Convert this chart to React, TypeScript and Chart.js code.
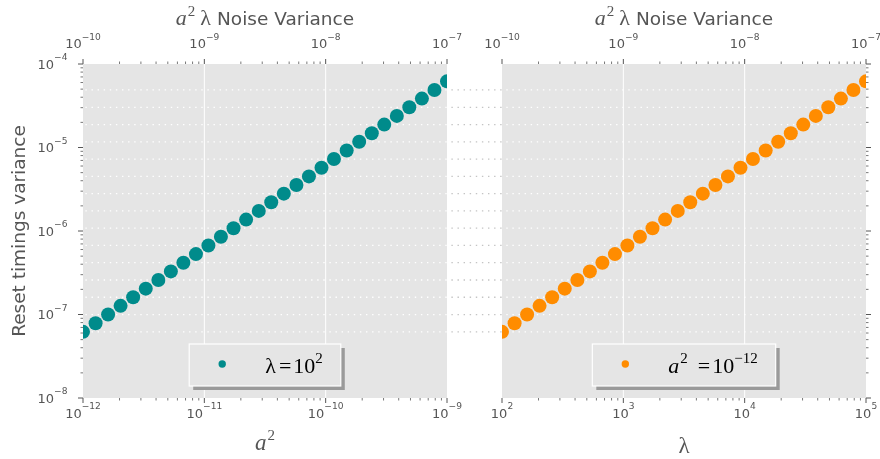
import React, { useEffect, useRef } from 'react';
import { Chart, registerables } from 'chart.js';

Chart.register(...registerables);

// ---- data ----
const aSquared = [
  1.0e-12, 1.27e-12, 1.61e-12, 2.04e-12, 2.59e-12, 3.29e-12, 4.18e-12, 5.3e-12, 6.72e-12, 8.53e-12,
  1.08e-11, 1.37e-11, 1.74e-11, 2.21e-11, 2.81e-11, 3.56e-11, 4.52e-11, 5.74e-11, 7.28e-11, 9.24e-11,
  1.17e-10, 1.49e-10, 1.89e-10, 2.4e-10, 3.04e-10, 3.86e-10, 4.89e-10, 6.21e-10, 7.88e-10, 1.0e-9,
];
const lambdaValues = [
  100, 127, 161, 204, 259, 329, 418, 530, 672, 853,
  1080, 1370, 1740, 2210, 2810, 3560, 4520, 5740, 7280, 9240,
  11700, 14900, 18900, 24000, 30400, 38600, 48900, 62100, 78800, 100000,
];
const resetVariance = [
  6.2e-8, 7.87e-8, 9.98e-8, 1.27e-7, 1.61e-7, 2.04e-7, 2.59e-7, 3.28e-7, 4.17e-7, 5.29e-7,
  6.71e-7, 8.52e-7, 1.08e-6, 1.37e-6, 1.74e-6, 2.21e-6, 2.8e-6, 3.56e-6, 4.51e-6, 5.73e-6,
  7.27e-6, 9.22e-6, 1.17e-5, 1.48e-5, 1.88e-5, 2.39e-5, 3.03e-5, 3.85e-5, 4.89e-5, 6.2e-5,
];

const leftBottomTicks = [1e-12, 1e-11, 1e-10, 1e-9];
const rightBottomTicks = [1e2, 1e3, 1e4, 1e5];
const topTicks = [1e-10, 1e-9, 1e-8, 1e-7];
const yTicks = [1e-8, 1e-7, 1e-6, 1e-5, 1e-4];

const TEAL = '#008b8b';
const ORANGE = '#ff8c00';
const LABEL = '#555555';
const SANS = '"DejaVu Sans", sans-serif';
const SERIF = '"Liberation Serif", "DejaVu Serif", serif';
const DASH = [1.4, 4.7];
const TICK_FONT = `13px ${SANS}`;
const EXP_FONT = `9.1px ${SANS}`;

type Part = { t: string; f: string; dy?: number; gap?: number };

const F_MATH = `22px ${SERIF}`;
const F_MATH_I = `italic 22px ${SERIF}`;
const F_SUP = `15px ${SERIF}`;

const leftLegendParts: Part[] = [
  { t: 'λ', f: F_MATH },
  { t: '=', f: F_MATH, gap: 3 },
  { t: '10', f: F_MATH, gap: 2 },
  { t: '2', f: F_SUP, dy: -10 },
];
const rightLegendParts: Part[] = [
  { t: 'a', f: F_MATH_I },
  { t: '2', f: F_SUP, dy: -10, gap: 1 },
  { t: '=', f: F_MATH, gap: 10 },
  { t: '10', f: F_MATH, gap: 2 },
  { t: '−12', f: F_SUP, dy: -10 },
];
const titleParts: Part[] = [
  { t: 'a', f: F_MATH_I },
  { t: '2', f: F_SUP, dy: -9, gap: 1 },
  { t: 'λ', f: F_MATH, gap: 5 },
  { t: 'Noise Variance', f: `18.5px ${SANS}`, gap: 6 },
];
const aLabelParts: Part[] = [
  { t: 'a', f: `italic 23px ${SERIF}` },
  { t: '2', f: F_SUP, dy: -10, gap: 1 },
];
const lambdaLabelParts: Part[] = [{ t: 'λ', f: `23px ${SERIF}` }];

function partsWidth(ctx: CanvasRenderingContext2D, parts: Part[]) {
  let w = 0;
  for (const p of parts) {
    ctx.font = p.f;
    w += (p.gap || 0) + ctx.measureText(p.t).width;
  }
  return w;
}

function drawParts(ctx: CanvasRenderingContext2D, parts: Part[], x0: number, baseline: number, color: string) {
  ctx.fillStyle = color;
  ctx.textAlign = 'left';
  ctx.textBaseline = 'alphabetic';
  let x = x0;
  for (const p of parts) {
    x += p.gap || 0;
    ctx.font = p.f;
    ctx.fillText(p.t, x, baseline + (p.dy || 0));
    x += ctx.measureText(p.t).width;
  }
}

function drawPow(ctx: CanvasRenderingContext2D, v: number, x: number, baseline: number, align: 'center' | 'right') {
  const e = Math.round(Math.log10(v));
  const exp = (e < 0 ? '−' : '') + String(Math.abs(e));
  ctx.font = TICK_FONT;
  const w1 = ctx.measureText('10').width;
  ctx.font = EXP_FONT;
  const w2 = ctx.measureText(exp).width;
  const total = w1 + w2;
  const x0 = align === 'center' ? x - total / 2 : x - total;
  ctx.fillStyle = LABEL;
  ctx.textAlign = 'left';
  ctx.textBaseline = 'alphabetic';
  ctx.font = TICK_FONT;
  ctx.fillText('10', x0, baseline);
  ctx.font = EXP_FONT;
  ctx.fillText(exp, x0 + w1, baseline - 8.5);
}

function minorsOf(majors: number[]) {
  const out: number[] = [];
  for (let i = 0; i < majors.length - 1; i++) {
    for (let m = 2; m <= 9; m++) out.push(m * majors[i]);
  }
  return out;
}

type PanelCfg = {
  side: 'left' | 'right';
  xs: number[];
  ys: number[];
  color: string;
  bottomTicks: number[];
  legendParts: Part[];
  xLabelParts: Part[];
  xLabelBaseline: number;
  canvasLeft: number;
  width: number;
  padding: { left: number; right: number; top: number; bottom: number };
};

function makeDecor(cfg: PanelCfg) {
  return {
    id: 'panelDecor',
    beforeDatasetsDraw(chart: any) {
      const { ctx, chartArea: a, scales } = chart;
      const x = scales.x;
      const y = scales.y;
      ctx.save();
      ctx.fillStyle = '#e5e5e5';
      ctx.fillRect(a.left, a.top, a.right - a.left, a.bottom - a.top);
      // vertical major grid lines
      ctx.strokeStyle = '#ffffff';
      ctx.lineWidth = 1;
      for (const t of cfg.bottomTicks) {
        const px = x.getPixelForValue(t);
        if (px <= a.left + 1 || px >= a.right - 1) continue;
        ctx.beginPath();
        ctx.moveTo(px, a.top);
        ctx.lineTo(px, a.bottom);
        ctx.stroke();
      }
      // dotted guide lines at every second point level
      ctx.lineWidth = 1.3;
      ctx.setLineDash(DASH);
      const period = DASH[0] + DASH[1];
      const seg = (x0: number, x1: number, py: number, color: string) => {
        ctx.strokeStyle = color;
        ctx.lineDashOffset = (x0 + cfg.canvasLeft) % period;
        ctx.beginPath();
        ctx.moveTo(x0, py);
        ctx.lineTo(x1, py);
        ctx.stroke();
      };
      cfg.ys.forEach((v, i) => {
        if (i % 2 !== 0) return;
        const py = y.getPixelForValue(v);
        seg(a.left, a.right, py, '#ffffff');
        if (cfg.side === 'left') seg(a.right, chart.width, py, '#c4c4c4');
        else seg(0, a.left, py, '#c4c4c4');
      });
      ctx.restore();
    },
    afterDatasetsDraw(chart: any) {
      const { ctx, chartArea: a, scales } = chart;
      const x = scales.x;
      const xTop = scales.xTop;
      const y = scales.y;
      const cx = (a.left + a.right) / 2;
      ctx.save();

      // legend (lower center, with shadow)
      const tw = partsWidth(ctx, cfg.legendParts);
      const bw = 76 + tw + 18;
      const bh = 42;
      const bx = cx - bw / 2;
      const by = a.bottom - 54;
      ctx.fillStyle = '#9a9a9a';
      ctx.fillRect(bx + 4, by + 4, bw, bh);
      ctx.fillStyle = '#e5e5e5';
      ctx.fillRect(bx, by, bw, bh);
      ctx.strokeStyle = '#ffffff';
      ctx.lineWidth = 1.2;
      ctx.strokeRect(bx, by, bw, bh);
      ctx.fillStyle = cfg.color;
      ctx.beginPath();
      ctx.arc(bx + 33, by + 20, 3.7, 0, Math.PI * 2);
      ctx.fill();
      drawParts(ctx, cfg.legendParts, bx + 76, by + 28.5, '#000000');

      // tick marks
      ctx.strokeStyle = LABEL;
      const tick = (x0: number, y0: number, x1: number, y1: number, w: number) => {
        ctx.lineWidth = w;
        ctx.beginPath();
        ctx.moveTo(x0, y0);
        ctx.lineTo(x1, y1);
        ctx.stroke();
      };
      const MJ = 5;
      const MN = 2.5;
      for (const t of cfg.bottomTicks) {
        const px = x.getPixelForValue(t);
        tick(px, a.bottom, px, a.bottom + MJ, 1);
      }
      for (const t of minorsOf(cfg.bottomTicks)) {
        const px = x.getPixelForValue(t);
        tick(px, a.bottom, px, a.bottom + MN, 0.8);
      }
      for (const t of topTicks) {
        const px = xTop.getPixelForValue(t);
        tick(px, a.top, px, a.top - MJ, 1);
      }
      for (const t of minorsOf(topTicks)) {
        const px = xTop.getPixelForValue(t);
        tick(px, a.top, px, a.top - MN, 0.8);
      }
      const edge = cfg.side === 'left' ? a.left : a.right;
      const dir = cfg.side === 'left' ? -1 : 1;
      for (const t of yTicks) {
        const py = y.getPixelForValue(t);
        tick(edge, py, edge + dir * MJ, py, 1);
      }
      for (const t of minorsOf(yTicks)) {
        const py = y.getPixelForValue(t);
        tick(edge, py, edge + dir * MN, py, 0.8);
      }

      // tick labels
      for (const t of cfg.bottomTicks) drawPow(ctx, t, x.getPixelForValue(t), a.bottom + 19.5, 'center');
      for (const t of topTicks) drawPow(ctx, t, xTop.getPixelForValue(t), a.top - 16, 'center');
      if (cfg.side === 'left') {
        for (const t of yTicks) drawPow(ctx, t, a.left - 15.5, y.getPixelForValue(t) + 4.75, 'right');
      }

      // axis labels
      const xw = partsWidth(ctx, cfg.xLabelParts);
      drawParts(ctx, cfg.xLabelParts, cx - xw / 2, cfg.xLabelBaseline, LABEL);
      const tw2 = partsWidth(ctx, titleParts);
      drawParts(ctx, titleParts, cx - tw2 / 2, 25, LABEL);
      if (cfg.side === 'left') {
        ctx.save();
        ctx.translate(24.5, (a.top + a.bottom) / 2);
        ctx.rotate(-Math.PI / 2);
        ctx.font = `18.5px ${SANS}`;
        ctx.fillStyle = LABEL;
        ctx.textAlign = 'center';
        ctx.textBaseline = 'alphabetic';
        ctx.fillText('Reset timings variance', 0, 0);
        ctx.restore();
      }
      ctx.restore();
    },
  };
}

function Panel(cfg: PanelCfg) {
  const ref = useRef<HTMLCanvasElement>(null);
  useEffect(() => {
    const xMin = cfg.bottomTicks[0];
    const xMax = cfg.bottomTicks[cfg.bottomTicks.length - 1];
    const chart = new Chart(ref.current as HTMLCanvasElement, {
      type: 'scatter',
      data: {
        datasets: [
          {
            data: cfg.xs.map((v, i) => ({ x: v, y: cfg.ys[i] })),
            backgroundColor: cfg.color,
            borderWidth: 0,
            pointRadius: 7,
            pointHoverRadius: 7,
            clip: 0,
          } as any,
        ],
      },
      options: {
        responsive: false,
        animation: false,
        devicePixelRatio: 1,
        events: [],
        layout: { padding: cfg.padding },
        plugins: { legend: { display: false }, tooltip: { enabled: false } },
        scales: {
          x: { type: 'logarithmic', axis: 'x', position: 'bottom', min: xMin, max: xMax, display: false },
          xTop: {
            type: 'logarithmic',
            axis: 'x',
            position: 'top',
            min: topTicks[0],
            max: topTicks[topTicks.length - 1],
            display: false,
          },
          y: { type: 'logarithmic', axis: 'y', min: yTicks[0], max: yTicks[yTicks.length - 1], display: false },
        } as any,
      },
      plugins: [makeDecor(cfg)],
    });
    return () => chart.destroy();
  }, []);
  return (
    <canvas
      ref={ref}
      width={cfg.width}
      height={459}
      style={{ position: 'absolute', left: cfg.canvasLeft, top: 0, width: cfg.width, height: 459 }}
    />
  );
}

export default function App() {
  return (
    <div style={{ position: 'absolute', left: 0, top: 0, width: 880, height: 459, background: '#ffffff', overflow: 'hidden' }}>
      <Panel
        side="left"
        xs={aSquared}
        ys={resetVariance}
        color={TEAL}
        bottomTicks={leftBottomTicks}
        legendParts={leftLegendParts}
        xLabelParts={aLabelParts}
        xLabelBaseline={450}
        canvasLeft={0}
        width={475}
        padding={{ left: 83, right: 28, top: 64, bottom: 61 }}
      />
      <Panel
        side="right"
        xs={lambdaValues}
        ys={resetVariance}
        color={ORANGE}
        bottomTicks={rightBottomTicks}
        legendParts={rightLegendParts}
        xLabelParts={lambdaLabelParts}
        xLabelBaseline={453}
        canvasLeft={475}
        width={405}
        padding={{ left: 27, right: 14, top: 64, bottom: 61 }}
      />
    </div>
  );
}
